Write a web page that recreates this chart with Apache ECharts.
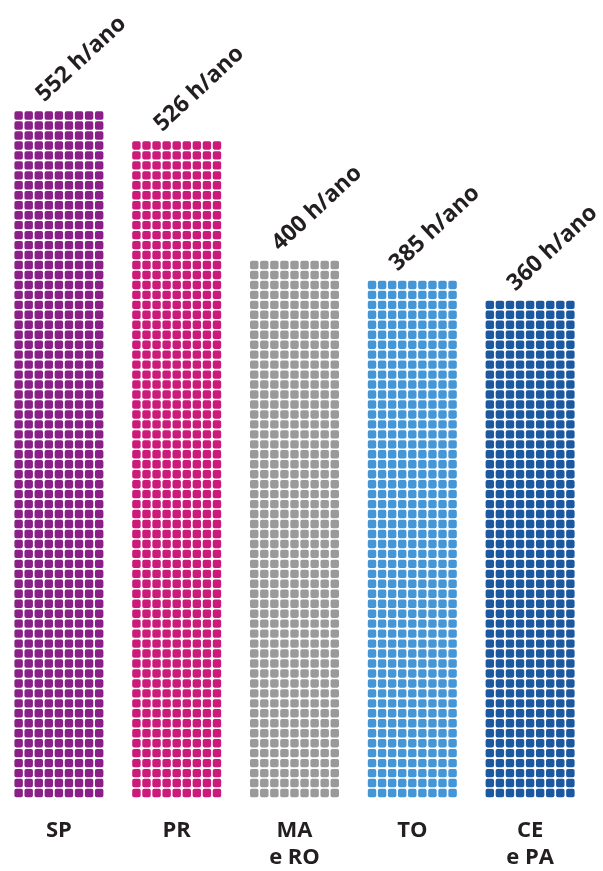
<!DOCTYPE html>
<html>
<head>
<meta charset="utf-8">
<script src="https://cdn.jsdelivr.net/npm/echarts@6/dist/echarts.min.js"></script>
<style>html,body{margin:0;padding:0;background:#fff}#c{width:603px;height:871px}</style>
</head>
<body>
<div id="c"></div>
<script>
// Data
const categories = ['SP', 'PR', 'MA\ne RO', 'TO', 'CE\ne PA'];
const hours = [552, 526, 400, 385, 360];          // printed values (h/ano)
const rowCounts = [69, 66, 54, 52, 50];           // rows of squares drawn in each column
const colors = ['#8a1f87', '#cc1a7a', '#9a9a9a', '#4496d6', '#1b58a0'];

function rowPath(n, s, g, r) {
  let d = '';
  for (let i = 0; i < n; i++) {
    const x = i * (s + g);
    d += 'M' + (x + r) + ' 0L' + (x + s - r) + ' 0Q' + (x + s) + ' 0 ' + (x + s) + ' ' + r +
         'L' + (x + s) + ' ' + (s - r) + 'Q' + (x + s) + ' ' + s + ' ' + (x + s - r) + ' ' + s +
         'L' + (x + r) + ' ' + s + 'Q' + x + ' ' + s + ' ' + x + ' ' + (s - r) +
         'L' + x + ' ' + r + 'Q' + x + ' 0 ' + (x + r) + ' 0Z';
  }
  return 'path://' + d;
}
const rowSymbol = rowPath(9, 8.4, 1.6, 1.8);
const FONT = '"Open Sans", "Noto Sans", sans-serif';

const chart = echarts.init(document.getElementById('c'), null, {renderer: 'canvas'});
chart.setOption({
  animation: false,
  backgroundColor: '#fff',
  grid: {left: -2, right: 14, top: 1, bottom: 70},
  xAxis: {
    type: 'category',
    data: categories,
    axisLine: {show: false},
    axisTick: {show: false},
    axisLabel: {
      margin: 19,
      fontFamily: FONT,
      fontWeight: 'bold',
      fontSize: 22,
      lineHeight: 27,
      color: '#231f20'
    }
  },
  yAxis: {type: 'value', min: 0, max: 80, show: false, splitLine: {show: false}},
  series: [
    {
      type: 'pictorialBar',
      symbol: rowSymbol,
      symbolSize: [89, 8.4],
      symbolRepeat: true,
      symbolMargin: '0.8!',
      symbolPosition: 'start',
      data: rowCounts.map((v, i) => ({value: v, itemStyle: {color: colors[i]}})),
      z: 2
    },
    {
      type: 'custom',
      data: rowCounts.map((v, i) => [i, v, hours[i]]),
      renderItem: function (params, api) {
        const p = api.coord([api.value(0), api.value(1)]);
        return {
          type: 'text',
          x: p[0] - 19,
          y: p[1] - 13,
          rotation: 43 * Math.PI / 180,
          style: {
            text: api.value(2) + ' h/ano',
            font: 'bold 23px ' + FONT,
            fill: '#231f20',
            align: 'left',
            verticalAlign: 'middle'
          }
        };
      },
      z: 3
    }
  ]
});
</script>
</body>
</html>
